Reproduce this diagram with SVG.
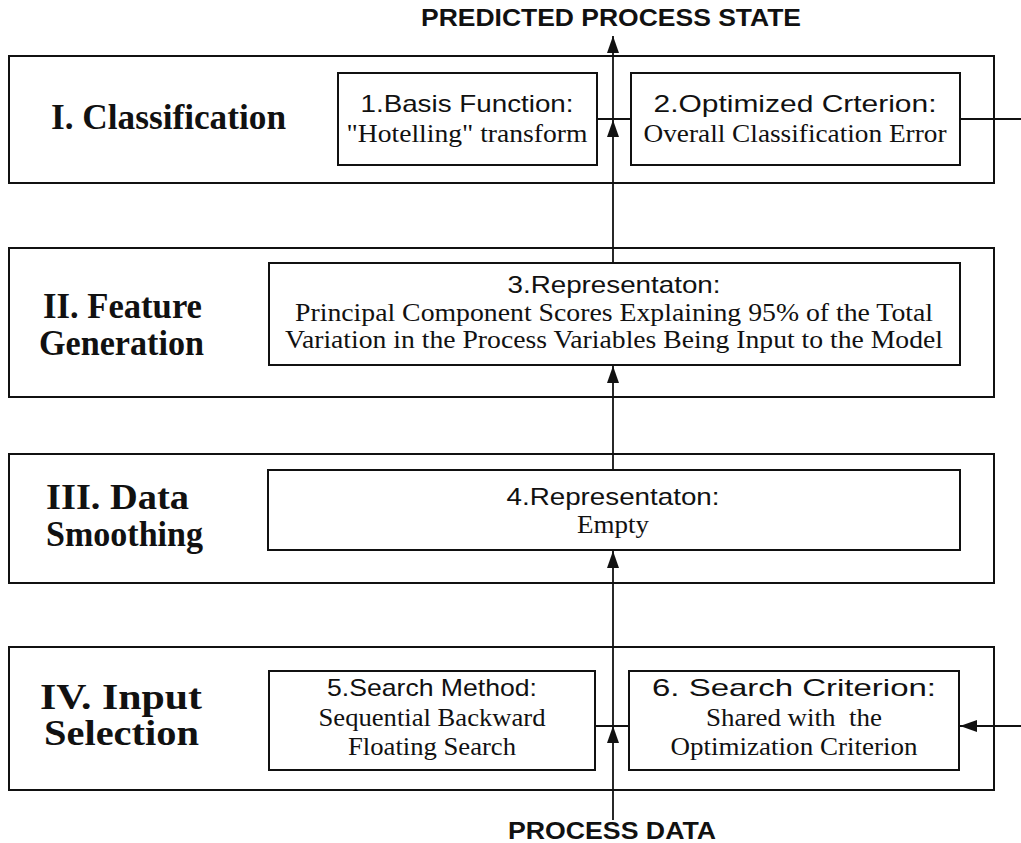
<svg xmlns="http://www.w3.org/2000/svg" width="1021" height="843" viewBox="0 0 1021 843">
  <style>
    .stage { fill: #fff; stroke: #111; stroke-width: 2; }
    .box { fill: #fff; stroke: #111; stroke-width: 2; }
    .title { font-family: "Liberation Serif", "Times New Roman", serif; font-weight: bold; font-size: 36px; fill: #111; }
    .head { font-family: "Liberation Sans", Arial, sans-serif; font-size: 24px; fill: #111; text-anchor: middle; }
    .body { font-family: "Liberation Serif", "Times New Roman", serif; font-size: 25px; fill: #111; text-anchor: middle; }
    .io { font-family: "Liberation Sans", Arial, sans-serif; font-weight: bold; font-size: 23px; fill: #111; text-anchor: middle; }
    .wire { stroke: #111; stroke-width: 1.8; fill: none; }
  </style>
  <defs>
    <marker id="arrow" markerUnits="userSpaceOnUse" markerWidth="18" markerHeight="13" refX="17" refY="6" orient="auto">
      <path d="M0,0 L17,6 L0,12 Z" fill="#111"/>
    </marker>
  </defs>

  <rect width="1021" height="843" fill="#fff"/>

  <!-- stage I -->
  <g id="stage-classification">
    <rect class="stage" x="9" y="56" width="985" height="127"/>
    <text class="title" x="51" y="129" textLength="235" lengthAdjust="spacingAndGlyphs">I. Classification</text>
  </g>
  <g id="node-basis-function">
    <rect class="box" x="338" y="73" width="259" height="92"/>
    <text class="head" x="467" y="112" textLength="213" lengthAdjust="spacingAndGlyphs">1.Basis Function:</text>
    <text class="body" x="467" y="142" textLength="241" lengthAdjust="spacingAndGlyphs">"Hotelling" transform</text>
  </g>
  <g id="node-optimized-criterion">
    <rect class="box" x="631" y="73" width="329" height="92"/>
    <text class="head" x="795" y="112" textLength="283" lengthAdjust="spacingAndGlyphs">2.Optimized Crterion:</text>
    <text class="body" x="795" y="142" textLength="303" lengthAdjust="spacingAndGlyphs">Overall Classification Error</text>
  </g>

  <!-- stage II -->
  <g id="stage-feature-generation">
    <rect class="stage" x="9" y="248" width="985" height="149"/>
    <text class="title" x="43" y="318" textLength="159" lengthAdjust="spacingAndGlyphs">II. Feature</text>
    <text class="title" x="39" y="355" textLength="165" lengthAdjust="spacingAndGlyphs">Generation</text>
  </g>
  <g id="node-representation-pca">
    <rect class="box" x="269" y="263" width="691" height="102"/>
    <text class="head" x="614" y="293" textLength="213" lengthAdjust="spacingAndGlyphs">3.Representaton:</text>
    <text class="body" x="614" y="321" textLength="638" lengthAdjust="spacingAndGlyphs">Principal Component Scores Explaining 95% of the Total</text>
    <text class="body" x="614" y="348" textLength="658" lengthAdjust="spacingAndGlyphs">Variation in the Process Variables Being Input to the Model</text>
  </g>

  <!-- stage III -->
  <g id="stage-data-smoothing">
    <rect class="stage" x="9" y="454" width="985" height="129"/>
    <text class="title" x="46" y="509" textLength="143" lengthAdjust="spacingAndGlyphs">III. Data</text>
    <text class="title" x="46" y="546" textLength="157" lengthAdjust="spacingAndGlyphs">Smoothing</text>
  </g>
  <g id="node-representation-empty">
    <rect class="box" x="268" y="470" width="692" height="80"/>
    <text class="head" x="613" y="505" textLength="213" lengthAdjust="spacingAndGlyphs">4.Representaton:</text>
    <text class="body" x="613" y="533" textLength="72" lengthAdjust="spacingAndGlyphs">Empty</text>
  </g>

  <!-- stage IV -->
  <g id="stage-input-selection">
    <rect class="stage" x="9" y="647" width="985" height="143"/>
    <text class="title" x="40" y="709" textLength="162" lengthAdjust="spacingAndGlyphs">IV. Input</text>
    <text class="title" x="44" y="745" textLength="155" lengthAdjust="spacingAndGlyphs">Selection</text>
  </g>
  <g id="node-search-method">
    <rect class="box" x="269" y="671" width="326" height="99"/>
    <text class="head" x="432" y="696" textLength="210" lengthAdjust="spacingAndGlyphs">5.Search Method:</text>
    <text class="body" x="432" y="726" textLength="227" lengthAdjust="spacingAndGlyphs">Sequential Backward</text>
    <text class="body" x="432" y="755" textLength="168" lengthAdjust="spacingAndGlyphs">Floating Search</text>
  </g>
  <g id="node-search-criterion">
    <rect class="box" x="629" y="671" width="330" height="99"/>
    <text class="head" x="794" y="696" textLength="284" lengthAdjust="spacingAndGlyphs">6. Search Criterion:</text>
    <text class="body" x="794" y="726" textLength="176" lengthAdjust="spacingAndGlyphs" xml:space="preserve">Shared with  the</text>
    <text class="body" x="794" y="755" textLength="247" lengthAdjust="spacingAndGlyphs">Optimization Criterion</text>
  </g>

  <!-- external inputs / outputs -->
  <g id="label-output">
    <text class="io" x="611" y="26" textLength="380" lengthAdjust="spacingAndGlyphs">PREDICTED PROCESS STATE</text>
  </g>
  <g id="label-input">
    <text class="io" x="612" y="839" textLength="208" lengthAdjust="spacingAndGlyphs">PROCESS DATA</text>
  </g>

  <!-- connectors -->
  <g id="connectors">
    <!-- main data path, bottom to top -->
    <line class="wire" x1="613" y1="820" x2="613" y2="726" marker-end="url(#arrow)"/>
    <line class="wire" x1="613" y1="726" x2="613" y2="551" marker-end="url(#arrow)"/>
    <line class="wire" x1="613" y1="470" x2="613" y2="366" marker-end="url(#arrow)"/>
    <line class="wire" x1="613" y1="263" x2="613" y2="120" marker-end="url(#arrow)"/>
    <line class="wire" x1="613" y1="120" x2="613" y2="36" marker-end="url(#arrow)"/>
    <!-- links inside stages -->
    <line class="wire" x1="597" y1="119" x2="631" y2="119"/>
    <line class="wire" x1="595" y1="726" x2="629" y2="726"/>
    <!-- criterion feedback -->
    <line class="wire" x1="960" y1="119" x2="1021" y2="119"/>
    <line class="wire" x1="1021" y1="726" x2="960" y2="726" marker-end="url(#arrow)"/>
  </g>
</svg>
